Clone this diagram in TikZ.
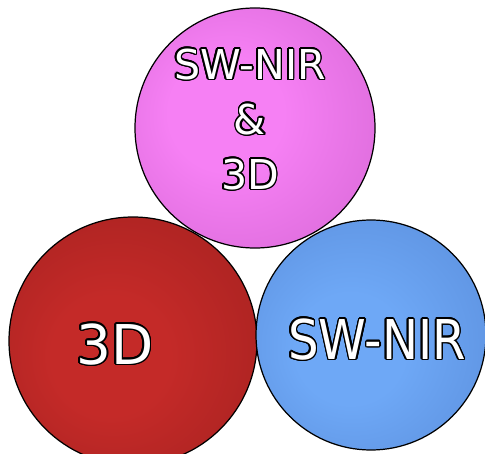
\documentclass[tikz,border=0pt]{standalone}
\usepackage{fontspec}
\newfontfamily\ballfont{DejaVu Sans}
\usepackage[copies]{contour}
\contourlength{0.9pt}
\definecolor{pinkhi}{RGB}{246,128,244}
\definecolor{pinklo}{RGB}{150,52,150}
\definecolor{redhi}{RGB}{196,42,40}
\definecolor{redlo}{RGB}{96,14,14}
\definecolor{bluehi}{RGB}{110,168,246}
\definecolor{bluelo}{RGB}{48,86,164}
\pgfdeclareradialshading{pinkball}{\pgfpoint{-8bp}{4bp}}{color(0bp)=(pinkhi); color(12bp)=(pinkhi); color(32bp)=(pinkhi!75!pinklo); color(45bp)=(pinkhi!35!pinklo); color(50bp)=(pinklo)}
\pgfdeclareradialshading{redball}{\pgfpoint{-6bp}{-4bp}}{color(0bp)=(redhi); color(12bp)=(redhi); color(32bp)=(redhi!75!redlo); color(45bp)=(redhi!35!redlo); color(50bp)=(redlo)}
\pgfdeclareradialshading{blueball}{\pgfpoint{-6bp}{-4bp}}{color(0bp)=(bluehi); color(12bp)=(bluehi); color(32bp)=(bluehi!75!bluelo); color(45bp)=(bluehi!35!bluelo); color(50bp)=(bluelo)}
\begin{document}
\begin{tikzpicture}[ball/.style={circle,draw=black,line width=0.7pt,inner sep=0pt},
  lbl/.style={text=white,align=center}]
\useasboundingbox (0,0) rectangle (9.7,9.06);
\clip (0,0) rectangle (9.7,9.06);
% the three spheres
\node[ball,shading=redball,minimum size=4.96cm] (red) at (2.66,2.24) {};
\node[ball,shading=blueball,minimum size=4.6cm] (blue) at (7.42,2.36) {};
\node[ball,shading=pinkball,minimum size=4.8cm] (pink) at (5.10,6.50) {};
% labels
\node[lbl,font=\ballfont\fontsize{23.4}{31.3}\selectfont] (pinktxt) at (5.0,6.66)
  {\contour{black}{SW-NIR}\\\contour{black}{\&}\\\contour{black}{3D}};
\node[lbl,font=\ballfont\fontsize{31.2}{36}\selectfont] (redtxt) at (2.30,2.16)
  {\contour{black}{3D}};
\node[lbl,font=\ballfont\fontsize{31.2}{36}\selectfont] (bluetxt) at (7.54,2.26)
  {\scalebox{0.88}[1]{\contour{black}{SW-NIR}}};
\end{tikzpicture}
\end{document}
